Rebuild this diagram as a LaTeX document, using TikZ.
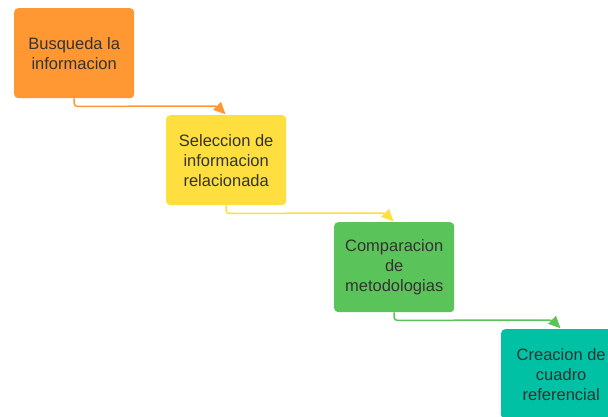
\documentclass[tikz,border=0pt]{standalone}
\usepackage{fontspec}
\setmainfont{Liberation Sans}
\usetikzlibrary{arrows.meta,calc}
\definecolor{corange}{RGB}{255,152,51}
\definecolor{cyellow}{RGB}{255,223,64}
\definecolor{cgreen}{RGB}{90,196,90}
\definecolor{cteal}{RGB}{0,193,163}
\definecolor{ctext}{RGB}{51,51,51}
\tikzset{
  stepbox/.style={rounded corners=4pt, minimum width=120pt, minimum height=90pt,
    align=center, text=ctext, inner sep=0pt,
    font=\fontsize{16.5pt}{20pt}\selectfont, anchor=north west},
  conn/.style={line width=1.5pt, rounded corners=3pt, shorten >=1pt,
    -{Triangle[length=12pt,width=11pt]}}
}
\begin{document}
\begin{tikzpicture}[x=1pt,y=-1pt]
\useasboundingbox (0,0) rectangle (608,417);
\clip (0,0) rectangle (608,417);
\node[stepbox, fill=corange] (b1) at (14,8) {Busqueda la\\informacion};
\node[stepbox, fill=cyellow] (b2) at (166,115) {Seleccion de\\informacion\\relacionada};
\node[stepbox, fill=cgreen] (b3) at (334,222) {Comparacion\\de\\metodologias};
\node[stepbox, fill=cteal] (b4) at (501,329) {Creacion de\\cuadro\\referencial};
\draw[conn, corange] (b1.south) -- ++(0,8) -- ($(b2.north)+(-9,-9)$) -- (b2.north);
\draw[conn, cyellow] (b2.south) -- ++(0,8) -- ($(b3.north)+(-9,-9)$) -- (b3.north);
\draw[conn, cgreen] (b3.south) -- ++(0,8) -- ($(b4.north)+(-9,-9)$) -- (b4.north);
\end{tikzpicture}
\end{document}
